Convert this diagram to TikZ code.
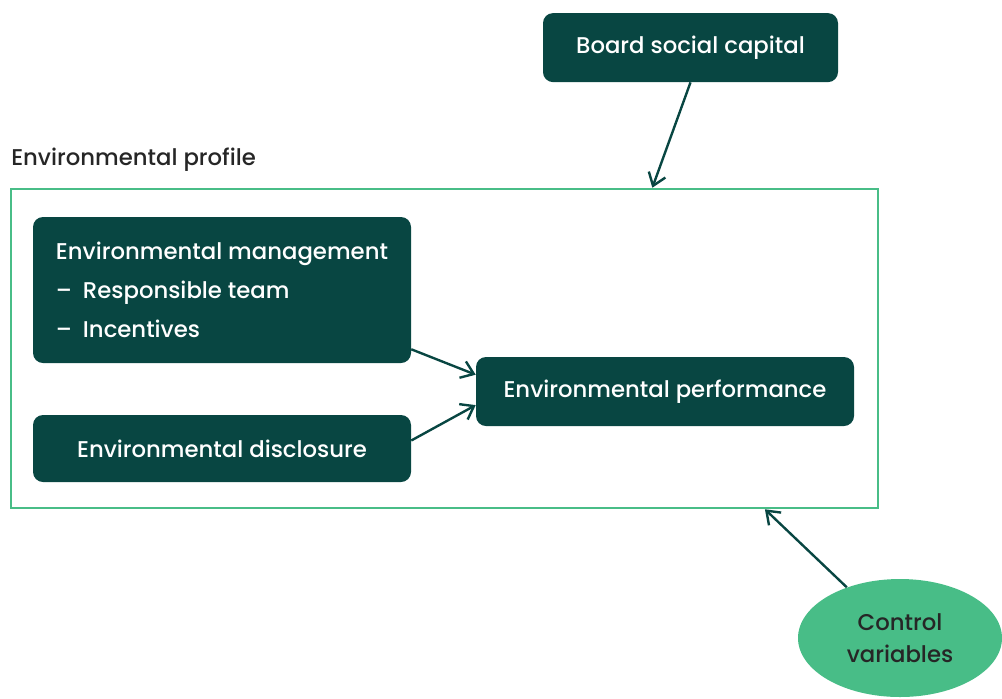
\documentclass[tikz,border=0pt]{standalone}
\usepackage{fontspec}
\setmainfont{Poppins}
\newfontfamily\boxfont{Poppins Medium}
\usepackage{tikz}
\usetikzlibrary{positioning, arrows.meta, shapes.geometric, calc}
\definecolor{boxteal}{RGB}{8,70,66}
\definecolor{framegreen}{RGB}{72,189,135}
\definecolor{labelgray}{RGB}{38,38,38}

\begin{document}
\begin{tikzpicture}[
  box/.style={rectangle, fill=boxteal, text=white, rounded corners=0.25cm, minimum width=9.45cm, minimum height=1.725cm, align=center, font=\boxfont\fontsize{16.2}{18}\selectfont},
  arr/.style={-{Straight Barb[length=3mm, width=4.4mm]}, draw=boxteal, line width=1.7pt}
]
\useasboundingbox (0,0) rectangle (25.05,-17.45);

% outer frame and its caption
\node[draw=framegreen, line width=1.8pt, minimum width=21.675cm, minimum height=7.975cm, inner sep=0pt] (profile) at (11.1125,-8.7125) {};
\node[anchor=west, inner sep=0pt, text=labelgray, font=\boxfont\fontsize{16.2}{18}\selectfont] (caption) at (0.275,-3.98) {Environmental profile};

\node[box, minimum width=7.375cm] (board) at (17.2625,-1.19) {Board social capital};
\node[box, minimum height=3.65cm, align=left, font=\boxfont\fontsize{16.2}{27.7}\selectfont] (mgmt) at (5.55,-7.25) {Environmental management\\\makebox[0.675cm][l]{–}Responsible team\\\makebox[0.675cm][l]{–}Incentives};
\node[box, minimum height=1.675cm] (disclosure) at (5.55,-11.2125) {Environmental disclosure};
\node[box] (perf) at (16.625,-9.7875) {Environmental performance};
\node[ellipse, fill=framegreen, text=labelgray, minimum width=5.1cm, minimum height=2.95cm, align=center, font=\boxfont\fontsize{16.2}{22.8}\selectfont] (control) at (22.5,-15.95) {Control\\variables};

\coordinate (topin) at ($(profile.north west)!0.739!(profile.north east)$);
\coordinate (botin) at ($(profile.south west)!0.8685!(profile.south east)$);

\draw[arr] (board.south) -- (topin);
\draw[arr] ([yshift=0.35cm]mgmt.south east) -- ([yshift=-0.45cm]perf.north west);
\draw[arr] ([yshift=0.2cm]disclosure.east) -- ([yshift=-0.34cm]perf.west);
\draw[arr] (control) -- (botin);
\end{tikzpicture}
\end{document}
